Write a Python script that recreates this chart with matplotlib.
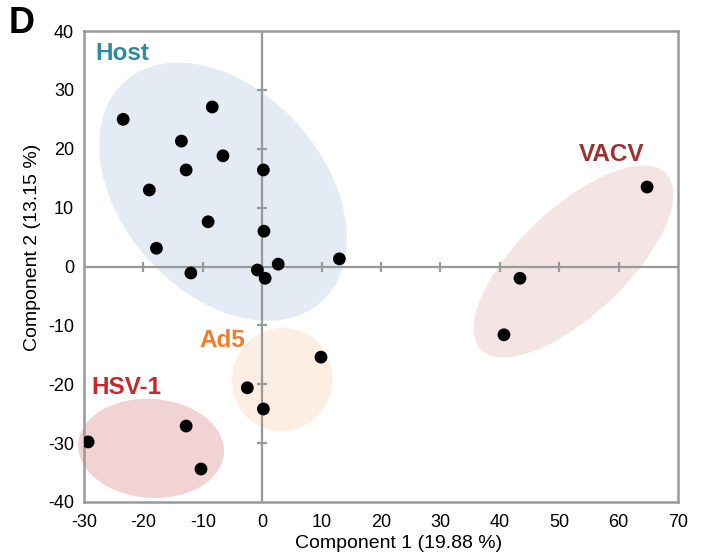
import numpy as np
import matplotlib.pyplot as plt
from matplotlib.patches import Ellipse

plt.rcParams['font.family'] = ['Liberation Sans', 'DejaVu Sans']
plt.rcParams['axes.unicode_minus'] = False

# PCA scores
host_x = [-23.4, -8.4, -13.6, -6.6, -12.8, 0.2, -19.0, -9.1, 0.3, -17.8, -12.0, -0.8, 0.5, 2.7, 13.0]
host_y = [25.0, 27.1, 21.3, 18.8, 16.4, 16.4, 13.0, 7.6, 6.0, 3.1, -1.1, -0.6, -2.0, 0.4, 1.3]
vacv_x = [64.8, 43.4, 40.7]
vacv_y = [13.5, -2.0, -11.6]
ad5_x = [9.9, -2.5, 0.2]
ad5_y = [-15.4, -20.6, -24.2]
hsv_x = [-29.3, -12.8, -10.3]
hsv_y = [-29.8, -27.1, -34.4]

groups = ['Host', 'VACV', 'Ad5', 'HSV-1']
# ellipse: center, (width, height), angle
ell_center = [(-6.6, 12.7), (52.4, 0.85), (3.4, -19.2), (-18.7, -30.9)]
ell_size = [(50.0, 34.1), (43.2, 18.1), (17.6, 16.9), (24.6, 16.8)]
ell_angle = [-49, 43.7, 75, -4]
ell_colors = ['#e4ebf4', '#f5e4e4', '#fdeee3', '#f2d3d3']
label_colors = ['#2e8aa0', '#9b3234', '#ef7d2c', '#c6282e']
label_pos = [(-23.6, 36.2), (58.9, 19.1), (-6.7, -12.6), (-22.9, -20.5)]

xticks = np.arange(-30, 71, 10)
yticks = np.arange(-40, 41, 10)

fig = plt.figure(figsize=(7.08, 5.6), dpi=100)
ax = fig.add_axes([0.1186, 0.1036, 0.839, 0.841])

for c, s, a, col in zip(ell_center, ell_size, ell_angle, ell_colors):
    ax.add_patch(Ellipse(c, s[0], s[1], angle=a, facecolor=col, edgecolor='none',
                         zorder=1, clip_on=False))

# axes through the origin with small tick marks
gray = '#999999'
ax.axhline(0, color=gray, lw=1.6, zorder=2)
ax.axvline(0, color=gray, lw=1.6, zorder=2)
inner_x = [t for t in xticks if t not in (-30, 0, 70)]
inner_y = [t for t in yticks if t not in (-40, 0, 40)]
ax.plot(inner_x, [0] * len(inner_x), ls='none', marker='|', ms=7, mew=1.6, color=gray, zorder=2)
ax.plot([0] * len(inner_y), inner_y, ls='none', marker='_', ms=7, mew=1.6, color=gray, zorder=2)

for xs, ys in [(host_x, host_y), (vacv_x, vacv_y), (ad5_x, ad5_y), (hsv_x, hsv_y)]:
    ax.scatter(xs, ys, s=85, color='black', edgecolor='none', zorder=3)

for g, p, col in zip(groups, label_pos, label_colors):
    ax.text(p[0], p[1], g, color=col, fontsize=17.5, fontweight='bold', ha='center', va='center')

ax.set_xlim(-30, 70)
ax.set_ylim(-40, 40)
ax.set_xticks(xticks)
ax.set_yticks(yticks)
ax.tick_params(length=0, labelsize=13)
ax.tick_params(axis='x', pad=9)
ax.tick_params(axis='y', pad=7)
for sp in ax.spines.values():
    sp.set_color(gray)
    sp.set_linewidth(1.8)
ax.set_xlabel('Component 1 (19.88 %)', fontsize=14)
ax.set_ylabel('Component 2 (13.15 %)', fontsize=14)
ax.xaxis.set_label_coords(0.530, -0.071)
ax.yaxis.set_label_coords(-0.072, 0.540)

fig.text(0.012, 0.958, 'D', fontsize=26, fontweight='bold', va='center')

fig.savefig('out.png', dpi=100)
